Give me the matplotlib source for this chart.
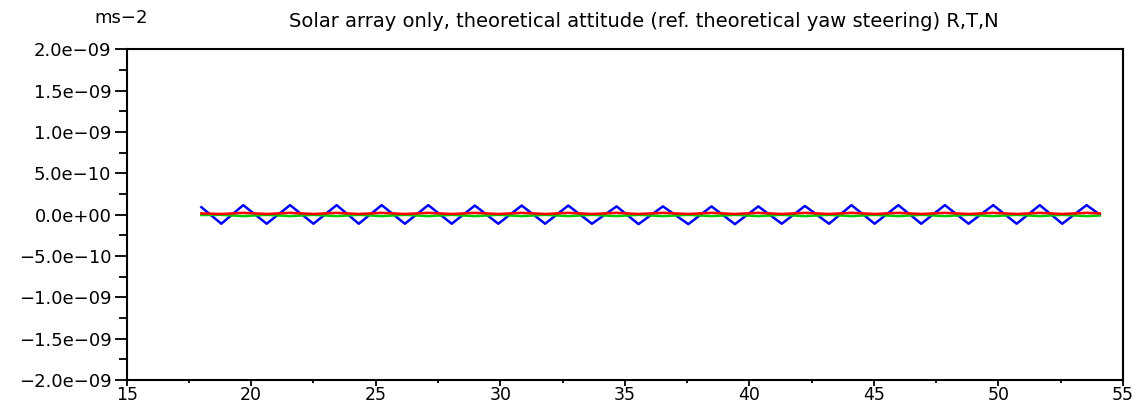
import matplotlib
matplotlib.use("Agg")
import matplotlib.pyplot as plt
from matplotlib.ticker import MultipleLocator, FuncFormatter

# time (days) at the turning points of the oscillation
t_days = [18.0, 18.8, 19.68, 20.62, 21.56, 22.5, 23.43, 24.32, 25.24, 26.17,
          27.11, 28.05, 28.98, 29.92, 30.86, 31.8, 32.73, 33.68, 34.67, 35.55,
          36.53, 37.55, 38.48, 39.42, 40.36, 41.3, 42.23, 43.2, 44.1, 45.03,
          45.98, 46.9, 47.85, 48.8, 49.79, 50.73, 51.66, 52.56, 53.54, 54.07]

# acceleration components, ms-2
accel_r = [0.9e-10, -1.1e-10, 1.15e-10, -1.1e-10, 1.15e-10, -1.1e-10, 1.15e-10, -1.1e-10,
           1.15e-10, -1.1e-10, 1.15e-10, -1.1e-10, 1.1e-10, -1.1e-10, 1.1e-10, -1.1e-10,
           1.1e-10, -1.1e-10, 1.0e-10, -1.15e-10, 1.0e-10, -1.15e-10, 1.0e-10, -1.15e-10,
           1.0e-10, -1.1e-10, 1.05e-10, -1.1e-10, 1.15e-10, -1.1e-10, 1.15e-10, -1.1e-10,
           1.15e-10, -1.1e-10, 1.15e-10, -1.1e-10, 1.15e-10, -1.1e-10, 1.15e-10, 0.0]
accel_t = [-0.05e-10, -0.02e-10, -0.18e-10, -0.02e-10, -0.18e-10, -0.02e-10, -0.18e-10, -0.02e-10,
           -0.18e-10, -0.02e-10, -0.18e-10, -0.02e-10, -0.18e-10, -0.02e-10, -0.18e-10, -0.02e-10,
           -0.18e-10, -0.02e-10, -0.18e-10, -0.02e-10, -0.18e-10, -0.02e-10, -0.18e-10, -0.02e-10,
           -0.18e-10, -0.02e-10, -0.18e-10, -0.02e-10, -0.18e-10, -0.02e-10, -0.18e-10, -0.02e-10,
           -0.18e-10, -0.02e-10, -0.18e-10, -0.02e-10, -0.18e-10, -0.02e-10, -0.18e-10, -0.1e-10]
accel_n = [0.15e-10, 0.08e-10, 0.22e-10, 0.08e-10, 0.22e-10, 0.08e-10, 0.22e-10, 0.08e-10,
           0.22e-10, 0.08e-10, 0.22e-10, 0.08e-10, 0.22e-10, 0.08e-10, 0.22e-10, 0.08e-10,
           0.22e-10, 0.08e-10, 0.22e-10, 0.08e-10, 0.22e-10, 0.08e-10, 0.22e-10, 0.08e-10,
           0.22e-10, 0.08e-10, 0.22e-10, 0.08e-10, 0.22e-10, 0.08e-10, 0.22e-10, 0.08e-10,
           0.22e-10, 0.08e-10, 0.22e-10, 0.08e-10, 0.22e-10, 0.08e-10, 0.22e-10, 0.15e-10]

plt.rcParams["font.family"] = ["DejaVu Sans"]

fig = plt.figure(figsize=(11.38, 4.09), dpi=100)
ax = fig.add_axes([0.1113, 0.0709, 0.8755, 0.8086])

ax.plot(t_days, accel_r, color="#0000ff", lw=1.8)
ax.plot(t_days, accel_t, color="#00cc00", lw=1.8)
ax.plot(t_days, accel_n, color="#ff0000", lw=1.8)

ax.set_xlim(15, 55)
ax.set_ylim(-2e-9, 2e-9)
ax.xaxis.set_major_locator(MultipleLocator(5))
ax.xaxis.set_minor_locator(MultipleLocator(2.5))
ax.yaxis.set_major_locator(MultipleLocator(5e-10))
ax.yaxis.set_minor_locator(MultipleLocator(2.5e-10))
ax.yaxis.set_major_formatter(FuncFormatter(lambda v, p: f"{v:.1e}".replace("-", "\u2212")))

ax.tick_params(axis="x", which="major", direction="out", length=4, width=1.3, labelsize=12.5, pad=0.5)
ax.tick_params(axis="x", which="minor", direction="out", length=2.5, width=1.3)
ax.tick_params(axis="y", which="major", direction="out", length=9, width=1.3, labelsize=13, pad=2)
ax.tick_params(axis="y", which="minor", direction="out", length=6, width=1.3)
for s in ax.spines.values():
    s.set_linewidth(1.5)

fig.text(0.106, 0.955, "ms\u22122", ha="center", va="center", fontsize=13)
fig.text(0.566, 0.948, "Solar array only, theoretical attitude (ref. theoretical yaw steering) R,T,N",
         ha="center", va="center", fontsize=14)

fig.savefig("out.png", dpi=100)
